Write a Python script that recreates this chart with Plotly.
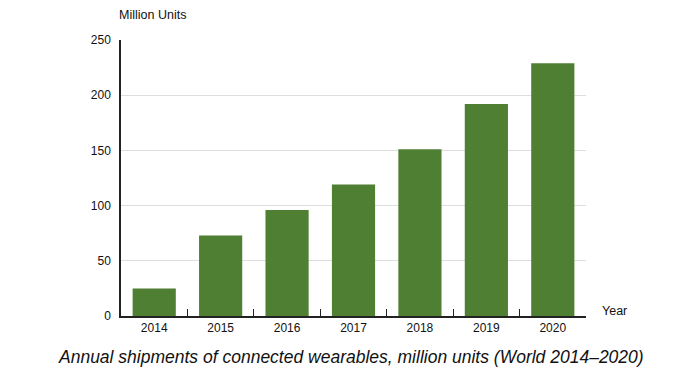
import plotly.graph_objects as go

years = ["2014", "2015", "2016", "2017", "2018", "2019", "2020"]
shipments = [25, 73, 96, 119, 151, 192, 229]
y_ticks = [0, 50, 100, 150, 200, 250]

fig = go.Figure()
fig.add_trace(go.Bar(
    x=years, y=shipments,
    marker=dict(color="#4f7f33", line=dict(width=0)),
    width=0.65,
))

# page body has an 8px default margin, so the figure is 692x373 and offset
fig.update_layout(
    width=692, height=373,
    margin=dict(l=113, r=114, t=32, b=65),
    plot_bgcolor="white", paper_bgcolor="white",
    font=dict(family="Liberation Sans, Arial, sans-serif", size=12, color="#111"),
    showlegend=False,
    bargap=0.35,
)
fig.update_xaxes(
    showline=True, linecolor="#222", linewidth=1.5,
    ticks="inside", tickson="boundaries", ticklen=7, tickcolor="#222", tickwidth=1.2,
    showgrid=False, tickfont=dict(size=12),
)
fig.update_yaxes(
    range=[0, 250], tickvals=y_ticks,
    showline=True, linecolor="#222", linewidth=1.5,
    showgrid=True, gridcolor="#dedede", gridwidth=1,
    ticks="", ticklabelstandoff=6, zeroline=False,
    tickfont=dict(size=12),
)
fig.add_annotation(text="Million Units", xref="paper", yref="paper",
                   x=-0.008, y=1.0, yshift=25, xanchor="left", yanchor="middle",
                   showarrow=False, font=dict(size=12.5))
fig.add_annotation(text="Year", xref="paper", yref="paper",
                   x=1.0, xshift=14, y=0, yshift=5, xanchor="left", yanchor="middle",
                   showarrow=False, font=dict(size=12.5))
fig.add_annotation(text="<i>Annual shipments of connected wearables, million units (World 2014\u20132020)</i>",
                   xref="paper", yref="paper", x=0.495, y=0, yshift=-41,
                   xanchor="center", yanchor="middle", showarrow=False,
                   font=dict(size=17.5))

fig.write_html("out.html")
